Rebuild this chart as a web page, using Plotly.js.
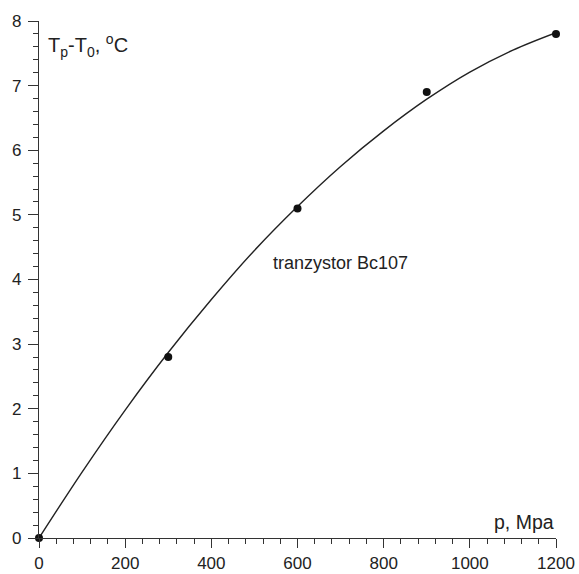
<!DOCTYPE html>
<html><head><meta charset="utf-8">
<script src="https://cdn.plot.ly/plotly-3.0.1.min.js"></script>
<style>html,body{margin:0;padding:0;background:#fff}#c{width:579px;height:574px}</style>
</head><body><div id="c"></div>
<script>
// measured points
const pX = [0, 300, 600, 900, 1200];
const pY = [0, 2.8, 5.1, 6.9, 7.8];
// fitted curve
const cX = [0, 100, 200, 300, 400, 500, 600, 700, 800, 900, 1000, 1100, 1200];
const cY = [0, 1.02, 1.98, 2.87, 3.69, 4.45, 5.13, 5.75, 6.30, 6.79, 7.21, 7.55, 7.82];
const xTicks = [0, 200, 400, 600, 800, 1000, 1200];
const yTicks = [0, 1, 2, 3, 4, 5, 6, 7, 8];

const fam = 'Liberation Sans, Arial, sans-serif';
const tickFont = {family: fam, color: '#222', size: 17};
const traces = [
  {x: cX, y: cY, mode: 'lines', line: {color: '#222', width: 1.4, shape: 'spline', smoothing: 1}, hoverinfo: 'skip'},
  {x: pX, y: pY, mode: 'markers', marker: {color: '#111', size: 8}, cliponaxis: false}
];
const axisCommon = {
  showline: true, linecolor: '#333', linewidth: 1.2, showgrid: false, zeroline: false,
  ticks: 'outside', tickwidth: 1, tickcolor: '#333',
  tickfont: tickFont, fixedrange: true
};
const layout = {
  width: 579, height: 574, showlegend: false,
  paper_bgcolor: '#fff', plot_bgcolor: '#fff',
  margin: {l: 39, r: 23, t: 21, b: 35.5},
  font: tickFont,
  xaxis: Object.assign({}, axisCommon, {
    range: [0, 1200], tickvals: xTicks, ticktext: xTicks.map(String),
    ticklen: 9, ticklabelstandoff: 0,
    minor: {dtick: 40, ticklen: 5, tickwidth: 1, tickcolor: '#333', ticks: 'outside'}
  }),
  yaxis: Object.assign({}, axisCommon, {
    range: [0, 8], tickvals: yTicks, ticktext: yTicks.map(String),
    ticklen: 10, ticklabelstandoff: 3,
    minor: {dtick: 0.2, ticklen: 5, tickwidth: 1, tickcolor: '#333', ticks: 'outside'}
  }),
  annotations: [
    {x: 16, y: 7.62, xref: 'x', yref: 'y', xanchor: 'left', yanchor: 'middle', showarrow: false,
     text: 'T<sub>p</sub>-T<sub>0</sub>, <sup>o</sup>C', font: {family: fam, size: 20, color: '#222'}},
    {x: 1200, y: 0.25, xref: 'x', yref: 'y', xanchor: 'right', yanchor: 'middle', showarrow: false,
     text: 'p, Mpa', font: {family: fam, size: 19.5, color: '#222'}},
    {x: 538, y: 4.26, xref: 'x', yref: 'y', xanchor: 'left', yanchor: 'middle', showarrow: false,
     text: 'tranzystor Bc107', font: {family: fam, size: 18, color: '#222'}}
  ]
};
Plotly.newPlot('c', traces, layout, {displayModeBar: false, staticPlot: true});
</script></body></html>
